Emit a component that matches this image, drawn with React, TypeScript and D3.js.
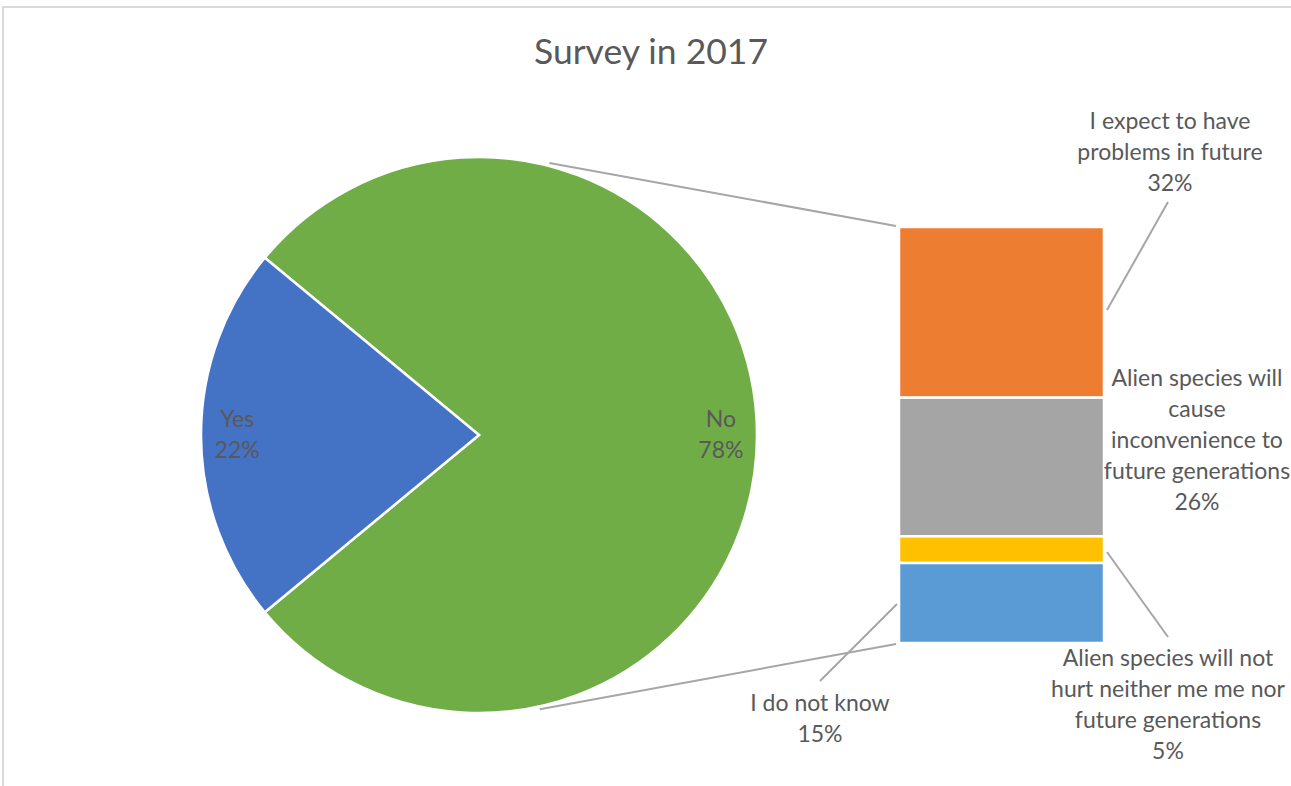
import React from "react";
import * as d3 from "d3";

const W = 1291;
const H = 786;

const title = "Survey in 2017";

// Pie data
const pieLabels = ["No", "Yes"];
const pieValues = [78, 22];
const pieColors = ["#70AD47", "#4472C4"];

// Bar (breakdown of "No") data
const barLabels = [
  ["I expect to have", "problems in future"],
  ["Alien species will", "cause", "inconvenience to", "future generations"],
  ["Alien species will not", "hurt neither me me nor", "future generations"],
  ["I do not know"],
];
const barValues = [32, 26, 5, 15];
const barColors = ["#ED7D31", "#A5A5A5", "#FFC000", "#5B9BD5"];

const FONT = "Lato, 'Open Sans', sans-serif";
const TXT = "#595959";

export default function App() {
  const cx = 479;
  const cy = 435;
  const r = 278;

  const total = d3.sum(pieValues);
  const noShare = pieValues[0] / total;
  const start = Math.PI / 2 - Math.PI * noShare;
  const pie = d3
    .pie<number>()
    .sort(null)
    .startAngle(start)
    .endAngle(start + 2 * Math.PI);
  const arcs = pie(pieValues);
  const arc = d3.arc<d3.PieArcDatum<number>>().innerRadius(0).outerRadius(r);
  const labelArc = d3.arc<d3.PieArcDatum<number>>().innerRadius(r * 0.87).outerRadius(r * 0.87);

  const barX = 899;
  const barW = 205;
  const barSum = d3.sum(barValues);
  const y = d3.scaleLinear().domain([0, barSum]).range([227, 643]);
  const cum = barValues.map((_, i) => d3.sum(barValues.slice(0, i)));

  const topAng = (14.5 * Math.PI) / 180;
  const botAng = (167.5 * Math.PI) / 180;
  const pt = (a: number, rr: number) => [cx + rr * Math.sin(a), cy - rr * Math.cos(a)];
  const p1 = pt(topAng, r + 3);
  const p2 = pt(botAng, r + 3);

  // label placements (layout)
  const labelPos = [
    { x: 1170, y: 129, lx1: 1168, ly1: 202, lx2: 1107, ly2: 310 },
    { x: 1197, y: 386, lx1: 0, ly1: 0, lx2: 0, ly2: 0 },
    { x: 1168, y: 666, lx1: 1168, ly1: 637, lx2: 1107, ly2: 552 },
    { x: 820, y: 711, lx1: 820, ly1: 681, lx2: 897, ly2: 604 },
  ];
  const lh = 31;
  const fs = 23;

  return (
    <svg
      width={W}
      height={H}
      style={{ position: "fixed", left: 0, top: 0, background: "#fff" }}
      fontFamily={FONT}
    >
      <rect x={3} y={7} width={W + 10} height={H + 10} fill="#fff" stroke="#D9D9D9" strokeWidth={2} />
      <text x={651} y={64} textAnchor="middle" fontSize={35.5} fill={TXT}>
        {title}
      </text>

      {/* connectors */}
      <line x1={p1[0]} y1={p1[1]} x2={barX - 3} y2={y(0) - 1} stroke="#A6A6A6" strokeWidth={2} />
      <line x1={p2[0]} y1={p2[1]} x2={barX - 3} y2={y(barSum) + 1} stroke="#A6A6A6" strokeWidth={2} />

      {arcs.map((a, i) => (
        <path key={i} d={arc(a) || ""} transform={`translate(${cx},${cy})`} fill={pieColors[i]} stroke="#fff" strokeWidth={2.5} />
      ))}
      {arcs.map((a, i) => {
        const c = labelArc.centroid(a);
        return (
          <text key={"pl" + i} textAnchor="middle" fontSize={fs} fill="#595959">
            <tspan x={cx + c[0]} y={cy + c[1] - 8}>{pieLabels[i]}</tspan>
            <tspan x={cx + c[0]} y={cy + c[1] - 8 + lh}>{Math.round((pieValues[i] / total) * 100)}%</tspan>
          </text>
        );
      })}

      {barValues.map((v, i) => (
        <rect
          key={"b" + i}
          x={barX}
          y={y(cum[i])}
          width={barW}
          height={y(cum[i] + v) - y(cum[i])}
          fill={barColors[i]}
          stroke="#fff"
          strokeWidth={2.5}
        />
      ))}

      {labelPos.map((p, i) =>
        p.lx1 ? (
          <line key={"ll" + i} x1={p.lx1} y1={p.ly1} x2={p.lx2} y2={p.ly2} stroke="#A6A6A6" strokeWidth={2} />
        ) : null
      )}
      {barLabels.map((lines, i) => (
        <text key={"bl" + i} textAnchor="middle" fontSize={fs} fill={TXT}>
          {[...lines, `${Math.round(barValues[i])}%`].map((s, j) => (
            <tspan key={j} x={labelPos[i].x} y={labelPos[i].y + j * lh}>
              {s}
            </tspan>
          ))}
        </text>
      ))}
    </svg>
  );
}
